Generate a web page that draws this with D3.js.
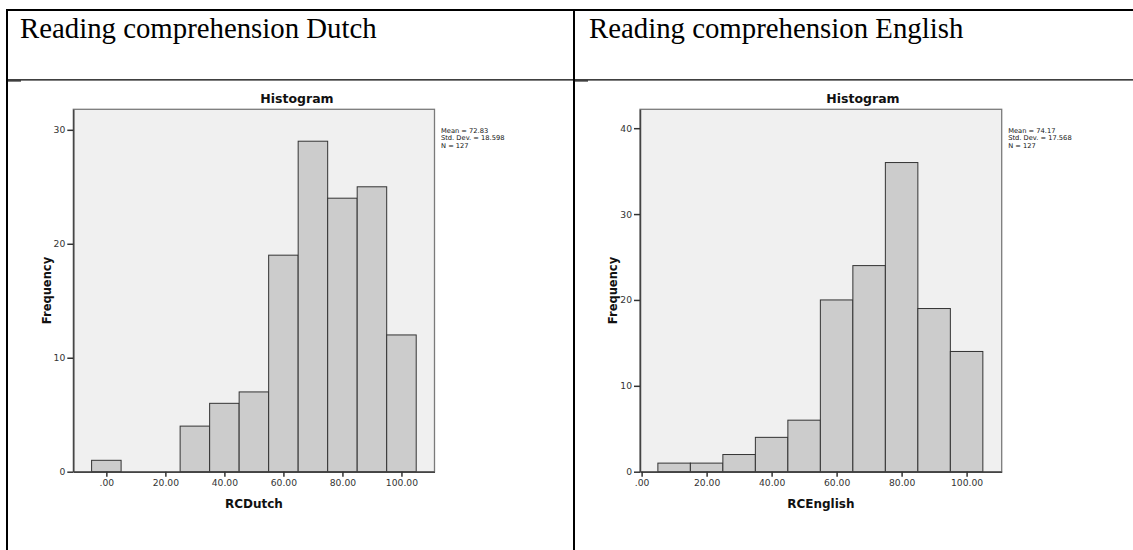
<!DOCTYPE html>
<html>
<head>
<meta charset="utf-8">
<script src="https://cdn.jsdelivr.net/npm/d3@7"></script>
<style>
  html, body { margin: 0; padding: 0; background: #fff; }
  svg { display: block; }
</style>
</head>
<body>
<svg id="chart" width="1133" height="550"></svg>
<script>
// ---- data ----
const panelTitles = ["Reading comprehension Dutch", "Reading comprehension English"];
const binWidth = 10;
const binCentersDutch = [0, 10, 20, 30, 40, 50, 60, 70, 80, 90, 100];
const countsDutch     = [1, 0, 0, 4, 6, 7, 19, 29, 24, 25, 12];
const binCentersEnglish = [10, 20, 30, 40, 50, 60, 70, 80, 90, 100];
const countsEnglish     = [1, 1, 2, 4, 6, 20, 24, 36, 19, 14];
const xTicks = [0, 20, 40, 60, 80, 100];
const xTickLabels = [".00", "20.00", "40.00", "60.00", "80.00", "100.00"];
const yTicksDutch = [0, 10, 20, 30];
const yTicksEnglish = [0, 10, 20, 30, 40];
const statsDutch = ["Mean = 72.83", "Std. Dev. = 18.598", "N = 127"];
const statsEnglish = ["Mean = 74.17", "Std. Dev. = 17.568", "N = 127"];
const xTitles = ["RCDutch", "RCEnglish"];

const svg = d3.select("#chart");
const SANS = "'DejaVu Sans', sans-serif";

// ---- table frame ----
const table = svg.append("g");
table.append("line").attr("x1", 6).attr("x2", 1133).attr("y1", 10).attr("y2", 10)
  .attr("stroke", "#000").attr("stroke-width", 2);
table.append("line").attr("x1", 7).attr("x2", 7).attr("y1", 9).attr("y2", 550)
  .attr("stroke", "#000").attr("stroke-width", 2);
table.append("line").attr("x1", 574).attr("x2", 574).attr("y1", 9).attr("y2", 550)
  .attr("stroke", "#000").attr("stroke-width", 2);
table.append("line").attr("x1", 6).attr("x2", 1133).attr("y1", 79.8).attr("y2", 79.8)
  .attr("stroke", "#000").attr("stroke-width", 1.3);
table.append("line").attr("x1", 7).attr("x2", 21).attr("y1", 81).attr("y2", 81)
  .attr("stroke", "#000").attr("stroke-width", 1);
table.append("line").attr("x1", 574).attr("x2", 588).attr("y1", 81).attr("y2", 81)
  .attr("stroke", "#000").attr("stroke-width", 1);

table.selectAll("text.ptitle").data(panelTitles).join("text")
  .attr("class", "ptitle")
  .attr("x", (d, i) => i === 0 ? 20 : 589)
  .attr("y", 38)
  .attr("font-family", "'Liberation Serif', 'Times New Roman', serif")
  .attr("font-size", 28.8)
  .attr("fill", "#000")
  .text(d => d);

// ---- histogram drawer ----
function drawHist(cfg) {
  const g = svg.append("g");
  const x = d3.scaleLinear().domain(cfg.xDomain).range([cfg.left, cfg.right]);
  const y = d3.scaleLinear().domain([0, cfg.yMax]).range([cfg.bottom, cfg.top]);

  // plot background
  g.append("rect")
    .attr("x", cfg.left).attr("y", cfg.top)
    .attr("width", cfg.right - cfg.left).attr("height", cfg.bottom - cfg.top)
    .attr("fill", "#f0f0f0").attr("stroke", "#7a7a7a").attr("stroke-width", 1.3);

  // bars
  g.selectAll("rect.bar").data(cfg.centers.map((c, i) => ({c, n: cfg.counts[i]})).filter(d => d.n > 0))
    .join("rect").attr("class", "bar")
    .attr("x", d => x(d.c - binWidth / 2))
    .attr("width", d => x(d.c + binWidth / 2) - x(d.c - binWidth / 2))
    .attr("y", d => y(d.n))
    .attr("height", d => y(0) - y(d.n))
    .attr("fill", "#cccccc").attr("stroke", "#333").attr("stroke-width", 1);

  // axes
  const yAxis = g.append("g").attr("transform", `translate(${cfg.left},0)`)
    .call(d3.axisLeft(y).tickValues(cfg.yTicks).tickSize(6).tickPadding(2).tickSizeOuter(0));
  const xAxis = g.append("g").attr("transform", `translate(0,${cfg.bottom})`)
    .call(d3.axisBottom(x).tickValues(xTicks).tickFormat((d, i) => xTickLabels[i])
      .tickSize(5).tickPadding(3).tickSizeOuter(0));
  [yAxis, xAxis].forEach(a => {
    a.select(".domain").attr("stroke", "#444").attr("stroke-width", 1.5);
    a.selectAll(".tick line").attr("stroke", "#333").attr("stroke-width", 1.5);
    a.selectAll(".tick text").attr("font-family", SANS).attr("font-size", 9.2).attr("fill", "#333");
  });

  // title
  g.append("text").attr("x", cfg.titleX).attr("y", 103)
    .attr("text-anchor", "middle").attr("font-family", SANS).attr("font-weight", "bold")
    .attr("font-size", 12.5).attr("fill", "#111").text("Histogram");

  // x axis title
  g.append("text").attr("x", (cfg.left + cfg.right) / 2).attr("y", 508)
    .attr("text-anchor", "middle").attr("font-family", SANS).attr("font-weight", "bold")
    .attr("font-size", 12).attr("fill", "#111").text(cfg.xTitle);

  // y axis title
  g.append("text")
    .attr("transform", `translate(${cfg.yTitleX},${(cfg.top + cfg.bottom) / 2}) rotate(-90)`)
    .attr("text-anchor", "middle").attr("font-family", SANS).attr("font-weight", "bold")
    .attr("font-size", 11.5).attr("fill", "#111").text("Frequency");

  // stats
  g.selectAll("text.stat").data(cfg.stats).join("text").attr("class", "stat")
    .attr("x", cfg.right + 6.5).attr("y", (d, i) => 132.5 + i * 7.9)
    .attr("font-family", SANS).attr("font-size", 6.7).attr("fill", "#111")
    .text(d => d);
}

drawHist({
  xDomain: [-11.2, 111.2], left: 73.3, right: 434.5, top: 109.3, bottom: 471.7, yMax: 31.8,
  centers: binCentersDutch, counts: countsDutch, yTicks: yTicksDutch,
  titleX: 297, xTitle: xTitles[0], yTitleX: 51, stats: statsDutch
});
drawHist({
  xDomain: [-0.5, 110.8], left: 640, right: 1001.7, top: 109.3, bottom: 471.7, yMax: 42.2,
  centers: binCentersEnglish, counts: countsEnglish, yTicks: yTicksEnglish,
  titleX: 863, xTitle: xTitles[1], yTitleX: 617, stats: statsEnglish
});
</script>
</body>
</html>
